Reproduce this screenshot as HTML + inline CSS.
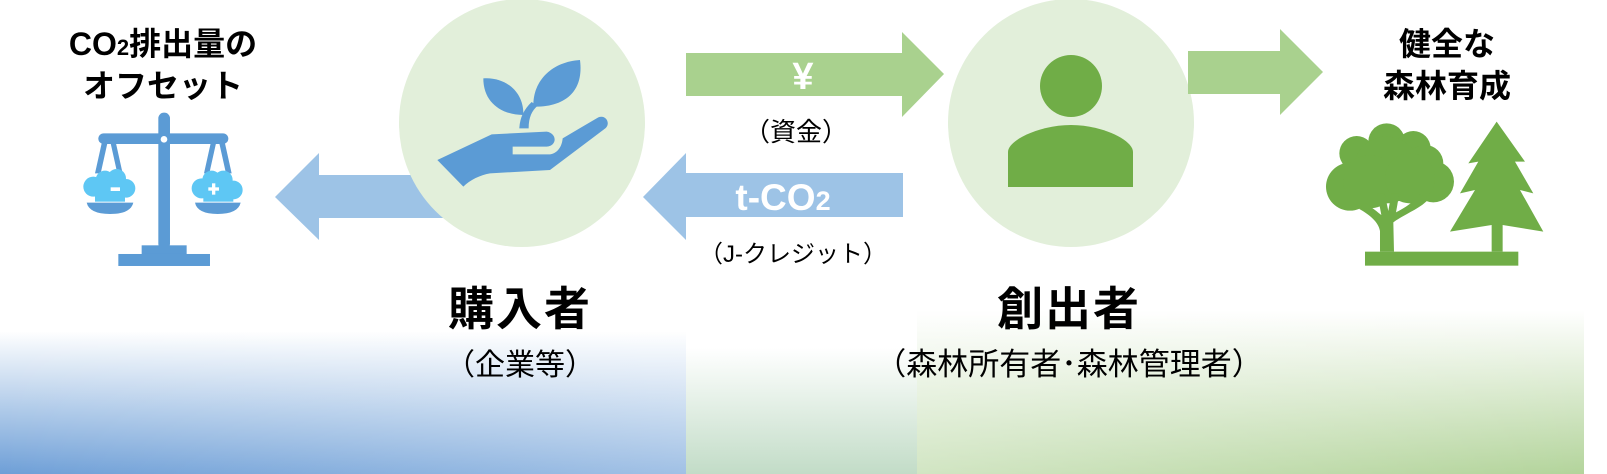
<!DOCTYPE html>
<html><head><meta charset="utf-8">
<style>
html,body{margin:0;padding:0;background:#fff;}
body{width:1607px;height:474px;overflow:hidden;position:relative;font-family:"Liberation Sans","Noto Sans CJK JP",sans-serif;}
svg{position:absolute;left:0;top:0;}
text{font-family:"Liberation Sans","Noto Sans CJK JP",sans-serif;}
</style></head><body>
<svg width="1607" height="474" viewBox="0 0 1607 474">
<defs>
<linearGradient id="gb" x1="0" y1="0" x2="0" y2="1">
<stop offset="0" stop-color="#ffffff"/><stop offset="0.3" stop-color="#ffffff"/><stop offset="1" stop-color="#6e9fd7"/></linearGradient>
<linearGradient id="gm" x1="0" y1="0" x2="0" y2="1">
<stop offset="0" stop-color="#ffffff"/><stop offset="0.35" stop-color="#ffffff"/><stop offset="1" stop-color="#c2dcc7"/></linearGradient>
<linearGradient id="gg" x1="0" y1="0" x2="0" y2="1">
<stop offset="0" stop-color="#ffffff"/><stop offset="0.2" stop-color="#ffffff"/><stop offset="1" stop-color="#b3d49b"/></linearGradient>
<linearGradient id="gbh" x1="0" y1="0" x2="1" y2="0">
<stop offset="0" stop-color="#ffffff" stop-opacity="0"/><stop offset="1" stop-color="#ffffff" stop-opacity="0.35"/></linearGradient>
<linearGradient id="ggh" x1="0" y1="0" x2="1" y2="0">
<stop offset="0" stop-color="#ffffff" stop-opacity="0.4"/><stop offset="1" stop-color="#ffffff" stop-opacity="0"/></linearGradient>
</defs>
<rect x="0" y="270" width="686" height="204" fill="url(#gb)"/>
<rect x="0" y="270" width="686" height="204" fill="url(#gbh)"/>
<rect x="686" y="280" width="231" height="194" fill="url(#gm)"/>
<rect x="917" y="270" width="667" height="204" fill="url(#gg)"/>
<rect x="917" y="270" width="667" height="204" fill="url(#ggh)"/>

<polygon points="275,197 319,153 319,175 450,175 450,218 319,218 319,240" fill="#9dc3e6"/>

<ellipse cx="522" cy="123" rx="123" ry="124" fill="#e2efda"/>
<g transform="translate(380,40) scale(0.3333)" fill="#5b9bd5">
<path d="M172,360 L335,283 L500,275 C532,280 532,318 500,320 L398,320 L398,343 L510,343 C532,340 546,320 548,295 L655,232 C680,222 695,255 672,268 L510,390 L330,400 C300,405 270,420 250,440 Z"/>
<path d="M310,115 C370,110 432,150 430,225 C368,225 310,190 310,115 Z"/>
<path d="M600,60 C612,150 560,202 460,200 C458,118 520,65 600,60 Z"/>
<path d="M418,265 L446,265 C446,232 456,212 472,198 L455,186 C432,208 420,232 418,265 Z"/>
</g>

<polygon points="686,53 902,53 902,32 944,74 902,117 902,96 686,96" fill="#a9d18e"/>
<text x="803" y="89" font-size="38" font-weight="bold" fill="#fff" text-anchor="middle">¥</text>
<text x="796" y="141" font-size="26" fill="#000" text-anchor="middle">（資金）</text>

<polygon points="643,197 686,153 686,173 903,173 903,217 686,217 686,240" fill="#9dc3e6"/>
<text x="783" y="210" font-size="37" font-weight="bold" fill="#fff" text-anchor="middle">t-CO<tspan font-size="27">2</tspan></text>
<text x="793" y="262" font-size="24" fill="#000" text-anchor="middle">（J-クレジット）</text>

<ellipse cx="1071" cy="123" rx="123" ry="124" fill="#e2efda"/>
<ellipse cx="1071" cy="86" rx="31" ry="31" fill="#70ad47"/>
<path d="M1008,187 L1008,152 C1008,140 1040,125 1071,125 C1102,125 1133,140 1133,152 L1133,187 Z" fill="#70ad47"/>

<polygon points="1188,51 1280,51 1280,29 1323,72 1280,115 1280,94 1188,94" fill="#a9d18e"/>

<g transform="translate(80,110) scale(0.3333)" fill="#5b9bd5">
<rect x="235" y="8" width="35" height="410" rx="17"/>
<rect x="55" y="70" width="390" height="32" rx="16"/>
<circle cx="252" cy="88" r="10" fill="#fff"/>
<rect x="185" y="406" width="135" height="30"/>
<rect x="115" y="432" width="275" height="36"/>
<polygon points="65,100 82,100 62,190 45,190"/>
<polygon points="92,100 108,100 128,190 112,190"/>
<polygon points="392,100 408,100 388,190 372,190"/>
<polygon points="418,100 435,100 455,190 438,190"/>
<path d="M20,278 L160,278 Q152,312 90,312 Q28,312 20,278 Z"/>
<path d="M345,278 L482,278 Q474,312 413,312 Q352,312 345,278 Z"/>
<g fill="#5ec7f4">
<circle cx="40" cy="230" r="30"/><circle cx="75" cy="210" r="28"/><circle cx="110" cy="205" r="28"/><circle cx="138" cy="235" r="28"/><rect x="45" y="215" width="90" height="60"/>
<circle cx="365" cy="235" r="30"/><circle cx="395" cy="210" r="28"/><circle cx="430" cy="210" r="28"/><circle cx="460" cy="240" r="28"/><rect x="370" y="215" width="90" height="60"/>
</g>
<rect x="92" y="232" width="28" height="11" fill="#fff"/>
<rect x="385" y="232" width="32" height="10" fill="#fff"/>
<rect x="396" y="220" width="10" height="34" fill="#fff"/>
</g>

<g transform="translate(1320,115) scale(0.3333)" fill="#70ad47">
<rect x="135" y="410" width="460" height="42"/>
<polygon points="530,20 615,140 585,140 640,235 600,225 670,350 548,330 548,410 515,410 515,330 390,350 465,225 420,235 475,140 445,145"/>
<circle cx="110" cy="115" r="52"/><circle cx="200" cy="80" r="55"/><circle cx="280" cy="100" r="52"/>
<circle cx="90" cy="215" r="72"/><circle cx="340" cy="200" r="62"/><circle cx="200" cy="165" r="100"/><circle cx="315" cy="145" r="55"/>
<circle cx="150" cy="200" r="80"/><circle cx="270" cy="190" r="75"/>
<path d="M180,410 L222,410 L220,322 C262,292 300,282 328,250 L300,238 C280,262 252,280 228,292 L238,236 L214,236 L205,288 L194,236 L172,236 L184,300 C164,284 146,270 132,262 L118,282 C150,300 176,322 180,348 Z"/>
</g>

<text x="163" y="55" font-size="32" font-weight="bold" text-anchor="middle">CO<tspan font-size="22">2</tspan>排出量の</text>
<text x="163" y="97" font-size="32" font-weight="bold" text-anchor="middle">オフセット</text>
<text x="1447" y="55" font-size="32" font-weight="bold" text-anchor="middle">健全な</text>
<text x="1447" y="97" font-size="32" font-weight="bold" text-anchor="middle">森林育成</text>
<text x="520" y="325" font-size="46" font-weight="bold" text-anchor="middle" letter-spacing="2">購入者</text>
<text x="520" y="375" font-size="30" text-anchor="middle">（企業等）</text>
<text x="1069" y="325" font-size="46" font-weight="bold" text-anchor="middle" letter-spacing="2">創出者</text>
<text x="1069" y="375" font-size="31" text-anchor="middle">（森林所有者･森林管理者）</text>
</svg>
</body></html>
